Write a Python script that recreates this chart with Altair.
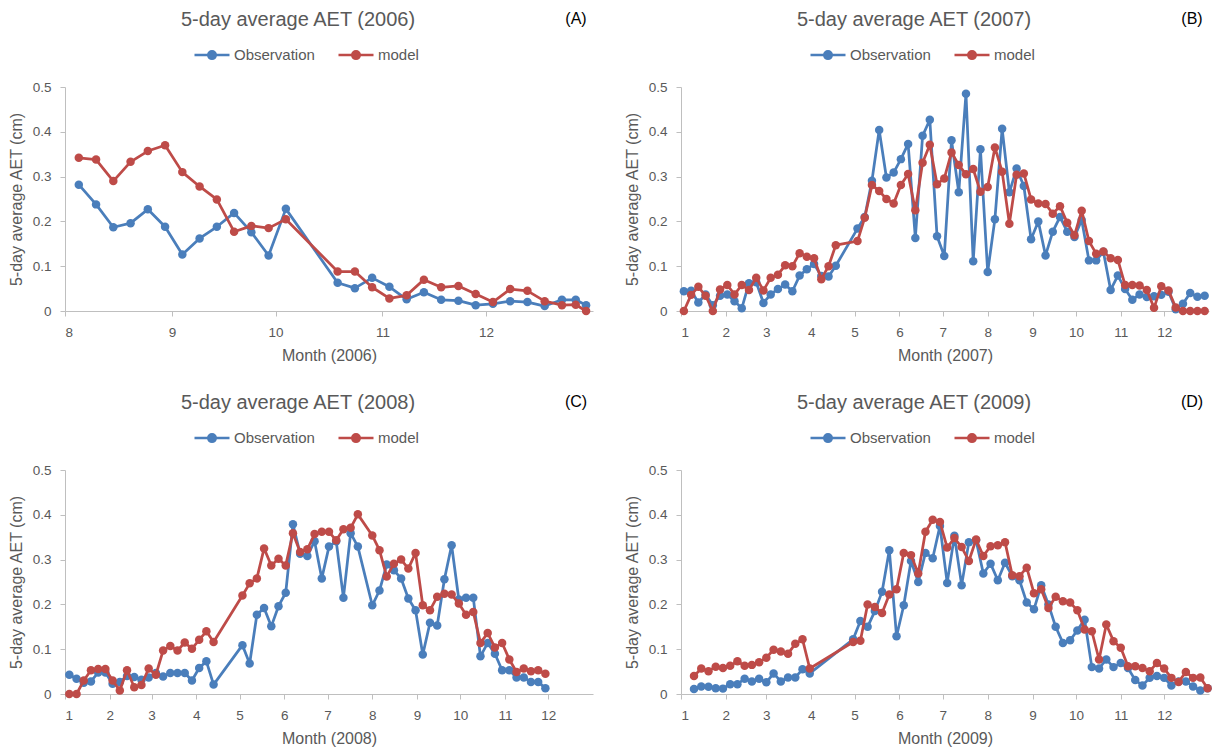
import altair as alt
import pandas as pd

# ---------------- data ----------------
days_2006 = [217, 222, 227, 232, 237, 242, 247, 252, 257, 262, 267, 272, 277,
             292, 297, 302, 307, 312, 317, 322, 327, 332, 337, 342, 347, 352, 357, 361, 364]
obs_2006 = [0.282, 0.238, 0.187, 0.196, 0.227, 0.188, 0.126, 0.162, 0.188, 0.219, 0.176, 0.124, 0.228,
            0.063, 0.051, 0.074, 0.054, 0.026, 0.042, 0.025, 0.023, 0.013, 0.016, 0.022, 0.020, 0.011,
            0.025, 0.025, 0.013]
mod_2006 = [0.342, 0.338, 0.290, 0.333, 0.357, 0.370, 0.310, 0.278, 0.249, 0.177, 0.190, 0.185, 0.205,
            0.088, 0.088, 0.053, 0.028, 0.035, 0.070, 0.053, 0.056, 0.038, 0.020, 0.049, 0.045, 0.022,
            0.013, 0.014, 0.0]

days_2007 = [3, 8, 13, 18, 23, 28, 33, 38, 43, 48, 53, 58, 63, 68, 73, 78, 83, 88, 93, 98, 103, 108,
             123, 128, 133, 138, 143, 148, 153, 158, 163, 168, 173, 178, 183, 188, 193, 198, 203, 208,
             213, 218, 223, 228, 233, 238, 243, 248, 253, 258, 263, 268, 273, 278, 283, 288, 293, 298,
             303, 308, 313, 318, 323, 328, 333, 338, 343, 348, 353, 358, 363]
obs_2007 = [0.044, 0.045, 0.019, 0.037, 0.013, 0.034, 0.037, 0.022, 0.006, 0.062, 0.064, 0.018, 0.037,
            0.049, 0.059, 0.044, 0.079, 0.093, 0.105, 0.078, 0.077, 0.101,
            0.184, 0.210, 0.291, 0.404, 0.298, 0.309, 0.339, 0.373, 0.163, 0.391, 0.427, 0.167, 0.123,
            0.381, 0.265, 0.485, 0.111, 0.361, 0.087, 0.205, 0.407, 0.265, 0.318, 0.279, 0.160, 0.200,
            0.124, 0.177, 0.210, 0.177, 0.165, 0.203, 0.113, 0.113, 0.132, 0.047, 0.079, 0.049, 0.025,
            0.037, 0.031, 0.033, 0.036, 0.043, 0.004, 0.016, 0.040, 0.032, 0.034]
mod_2007 = [0.0, 0.036, 0.054, 0.034, 0.0, 0.048, 0.058, 0.037, 0.058, 0.047, 0.074, 0.046, 0.074,
            0.081, 0.102, 0.100, 0.129, 0.121, 0.118, 0.071, 0.100, 0.147,
            0.156, 0.208, 0.281, 0.268, 0.250, 0.240, 0.281, 0.306, 0.225, 0.331, 0.371, 0.283, 0.296,
            0.354, 0.326, 0.305, 0.317, 0.266, 0.277, 0.365, 0.311, 0.195, 0.304, 0.307, 0.249, 0.240,
            0.239, 0.217, 0.234, 0.197, 0.169, 0.224, 0.156, 0.128, 0.133, 0.118, 0.114, 0.058, 0.058,
            0.057, 0.047, 0.007, 0.055, 0.046, 0.008, 0.0, 0.0, 0.0, 0.0]

days_2008 = [4, 9, 14, 19, 24, 29, 34, 39, 44, 49, 54, 59, 64, 69, 74, 79, 84, 89, 94, 99, 104,
             124, 129, 134, 139, 144, 149, 154, 159, 164, 169, 174, 179, 184, 189, 194, 199, 204,
             214, 219, 224, 229, 234, 239, 244, 249, 254, 259, 264, 269, 274, 279, 284, 289, 294, 299,
             304, 309, 314, 319, 324, 329, 334]
obs_2008 = [0.043, 0.034, 0.025, 0.028, 0.048, 0.048, 0.023, 0.027, 0.040, 0.038, 0.032, 0.037, 0.047,
            0.039, 0.047, 0.047, 0.047, 0.030, 0.058, 0.073, 0.021,
            0.109, 0.068, 0.177, 0.192, 0.151, 0.196, 0.226, 0.379, 0.313, 0.308, 0.341, 0.258, 0.329,
            0.341, 0.215, 0.359, 0.329,
            0.198, 0.231, 0.289, 0.276, 0.258, 0.213, 0.187, 0.088, 0.159, 0.153, 0.256, 0.332, 0.211,
            0.215, 0.215, 0.084, 0.114, 0.090, 0.053, 0.053, 0.037, 0.037, 0.027, 0.027, 0.013]
mod_2008 = [0.0, 0.0, 0.030, 0.053, 0.056, 0.056, 0.030, 0.008, 0.053, 0.015, 0.020, 0.057, 0.043,
            0.097, 0.107, 0.097, 0.115, 0.101, 0.121, 0.140, 0.116,
            0.220, 0.247, 0.258, 0.325, 0.287, 0.302, 0.287, 0.359, 0.317, 0.323, 0.357, 0.362, 0.362,
            0.343, 0.368, 0.371, 0.401,
            0.354, 0.321, 0.262, 0.291, 0.300, 0.280, 0.315, 0.198, 0.187, 0.217, 0.224, 0.222, 0.202,
            0.177, 0.183, 0.114, 0.136, 0.104, 0.114, 0.077, 0.049, 0.057, 0.051, 0.053, 0.045]

days_2009 = [10, 15, 20, 25, 30, 35, 40, 45, 50, 55, 60, 65, 70, 75, 80, 85, 90,
             120, 125, 130, 135, 140, 145, 150, 155, 160, 165, 170, 175, 180, 185, 190, 195, 200, 205,
             210, 215, 220, 225, 230, 235, 240, 245, 250, 255, 260, 265, 270, 275, 280, 285, 290, 295,
             300, 305, 310, 315, 320, 325, 330, 335, 340, 345, 350, 355, 360, 365]
obs_2009 = [0.011, 0.017, 0.016, 0.013, 0.012, 0.022, 0.022, 0.034, 0.028, 0.034, 0.026, 0.046, 0.028,
            0.037, 0.037, 0.055, 0.046,
            0.122, 0.163, 0.150, 0.185, 0.228, 0.321, 0.129, 0.198, 0.297, 0.250, 0.315, 0.303, 0.375,
            0.248, 0.353, 0.243, 0.339, 0.343, 0.269, 0.291, 0.254, 0.293, 0.263, 0.254, 0.204, 0.189,
            0.243, 0.200, 0.150, 0.114, 0.120, 0.142, 0.166, 0.060, 0.057, 0.077, 0.060, 0.069, 0.058,
            0.031, 0.019, 0.036, 0.040, 0.036, 0.019, 0.028, 0.028, 0.017, 0.008, 0.013]
mod_2009 = [0.040, 0.057, 0.051, 0.061, 0.058, 0.063, 0.073, 0.063, 0.065, 0.071, 0.081, 0.099, 0.095,
            0.090, 0.112, 0.122, 0.057,
            0.116, 0.119, 0.200, 0.194, 0.181, 0.222, 0.234, 0.315, 0.310, 0.269, 0.362, 0.389, 0.384,
            0.327, 0.348, 0.328, 0.297, 0.345, 0.308, 0.330, 0.332, 0.339, 0.265, 0.263, 0.282, 0.225,
            0.234, 0.192, 0.217, 0.207, 0.204, 0.187, 0.144, 0.140, 0.077, 0.155, 0.118, 0.103, 0.062,
            0.062, 0.058, 0.051, 0.069, 0.057, 0.036, 0.027, 0.049, 0.036, 0.037, 0.013]

series_names = ["Observation", "model"]
y_ticks = [0, 0.1, 0.2, 0.3, 0.4, 0.5]
month_starts = [1, 32, 60, 91, 121, 152, 182, 213, 244, 274, 305, 335]
month_starts_leap = [1, 32, 61, 92, 122, 153, 183, 214, 245, 275, 306, 336]

# ---------------- styling ----------------
BLUE = "#4A7EBB"
RED = "#BE4B48"
TEXT = "#595959"
AXIS = "#BFBFBF"
FONT = "Liberation Sans"
W, H = 528, 224


def legend_symbol(half=17.5, radii=(0.8, 2.2, 3.75)):
    p = "M-1,0L1,0"
    for r in radii:
        u = r / half
        p += f"M{u:.4f},0A{u:.4f},{u:.4f},0,1,1,{-u:.4f},0A{u:.4f},{u:.4f},0,1,1,{u:.4f},0"
    return p


def panel(days, obs, mod, year, letter, ticks, first_month, domain):
    tick_str = ",".join(str(t) for t in ticks)
    x = alt.X("day:Q",
              scale=alt.Scale(domain=domain, nice=False, zero=False),
              axis=alt.Axis(values=ticks,
                            labelExpr=f"'' + (indexof([{tick_str}], datum.value) + {first_month})",
                            title=f"Month ({year})"))
    y = alt.Y("aet:Q",
              scale=alt.Scale(domain=[0, 0.5], nice=False),
              axis=alt.Axis(values=y_ticks,
                            labelExpr="datum.value == 0 ? '0' : format(datum.value, '.1f')",
                            title="5-day average AET (cm)"))
    cscale = alt.Scale(domain=series_names, range=[BLUE, RED])
    leg = alt.Legend(orient="none", legendX=128, legendY=-51, direction="horizontal", title=None,
                     symbolType=legend_symbol(), symbolSize=35 * 35, symbolStrokeWidth=2.5,
                     labelFont=FONT, labelFontSize=15, labelColor=TEXT, labelOffset=3,
                     columnPadding=18, padding=0)
    layers = []
    for name, vals in zip(series_names, (obs, mod)):
        df = pd.DataFrame({"day": days, "aet": vals, "series": name})
        layers.append(alt.Chart(df).mark_line(strokeWidth=2.75, strokeJoin="round").encode(
            x=x, y=y, color=alt.Color("series:N", scale=cscale, legend=leg)))
        layers.append(alt.Chart(df).mark_circle(size=72, opacity=1).encode(
            x=x, y=y, color=alt.Color("series:N", scale=cscale, legend=None)))
    tdf = pd.DataFrame({"t": [f"5-day average AET ({year})"], "l": [letter]})
    layers.append(alt.Chart(tdf).mark_text(font=FONT, fontSize=20, color=TEXT, align="center",
                                           baseline="middle").encode(
        text="t:N", x=alt.value(233), y=alt.value(-67)))
    layers.append(alt.Chart(tdf).mark_text(font=FONT, fontSize=16, color="#000000", align="center",
                                           baseline="middle").encode(
        text="l:N", x=alt.value(511), y=alt.value(-68)))
    return alt.layer(*layers).properties(width=W, height=H)


pA = panel(days_2006, obs_2006, mod_2006, 2006, "(A)", [213, 244, 274, 305, 335], 8, [213, 366])
pB = panel(days_2007, obs_2007, mod_2007, 2007, "(B)", month_starts, 1, [1, 366])
pC = panel(days_2008, obs_2008, mod_2008, 2008, "(C)", month_starts_leap, 1, [1, 367])
pD = panel(days_2009, obs_2009, mod_2009, 2009, "(D)", month_starts, 1, [1, 366])


def row(a, b):
    return alt.hconcat(a, b, spacing=31).resolve_scale(
        x="independent", y="independent", color="independent").resolve_legend(color="independent")


chart = alt.vconcat(row(pA, pB), row(pC, pD), spacing=29).resolve_scale(
    x="independent", y="independent", color="independent").resolve_legend(color="independent")

chart = chart.properties(padding={"left": 0, "top": 2, "right": 0, "bottom": 0}).configure_view(
    stroke=None
).configure_axis(
    grid=False, domainColor=AXIS, tickColor=AXIS, domainWidth=1, tickWidth=1, tickSize=5,
    labelColor=TEXT, titleColor=TEXT, labelFont=FONT, titleFont=FONT,
    labelFontSize=13.5, titleFontSize=16, titleFontWeight="normal"
).configure_axisX(
    labelPadding=9, titlePadding=9
).configure_axisY(
    labelPadding=9, titlePadding=8
)

chart.save("out.html", embed_options={"renderer": "svg", "actions": False})
